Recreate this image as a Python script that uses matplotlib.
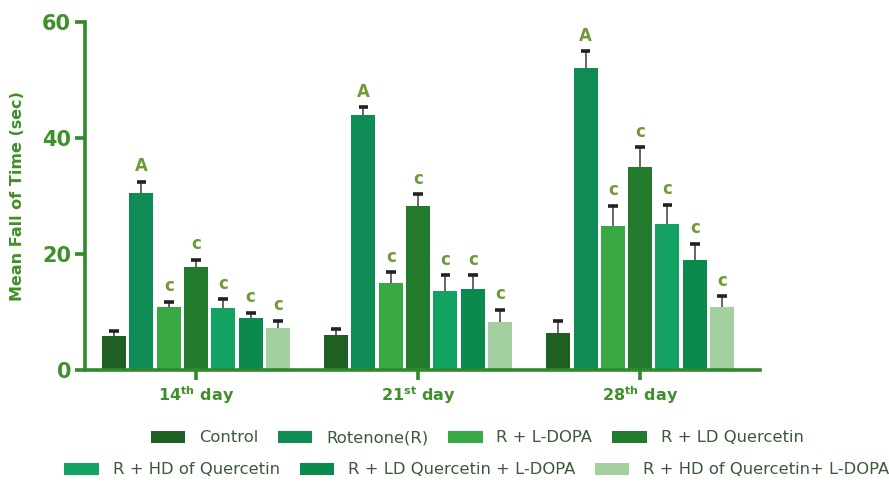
import numpy as np
import matplotlib
matplotlib.use("Agg")
import matplotlib.pyplot as plt
from matplotlib.patches import Patch

days = [r"14$^{\mathbf{th}}$ day", r"21$^{\mathbf{st}}$ day", r"28$^{\mathbf{th}}$ day"]
groups = ["Control", "Rotenone(R)", "R + L-DOPA", "R + LD Quercetin",
          "R + HD of Quercetin", "R + LD Quercetin + L-DOPA",
          "R + HD of Quercetin+ L-DOPA"]

control      = [5.8, 6.0, 6.3]
rotenone     = [30.5, 43.9, 52.1]
r_ldopa      = [10.8, 15.0, 24.9]
r_ld_querc   = [17.8, 28.3, 35.0]
r_hd_querc   = [10.7, 13.6, 25.2]
r_ldq_ldopa  = [9.0, 13.9, 19.0]
r_hdq_ldopa  = [7.2, 8.2, 10.8]

control_err     = [1.0, 1.0, 2.1]
rotenone_err    = [2.0, 1.4, 2.9]
r_ldopa_err     = [1.0, 1.9, 3.4]
r_ld_querc_err  = [1.2, 2.0, 3.4]
r_hd_querc_err  = [1.5, 2.7, 3.3]
r_ldq_ldopa_err = [0.9, 2.4, 2.8]
r_hdq_ldopa_err = [1.3, 2.2, 1.9]

letters = [None, "A", "c", "c", "c", "c", "c"]

values = [control, rotenone, r_ldopa, r_ld_querc, r_hd_querc, r_ldq_ldopa, r_hdq_ldopa]
errors = [control_err, rotenone_err, r_ldopa_err, r_ld_querc_err,
          r_hd_querc_err, r_ldq_ldopa_err, r_hdq_ldopa_err]
colors = ["#1f5f22", "#0f8c55", "#39a944", "#227a2c", "#13a262", "#0b8a4e", "#a3cfa1"]

axis_green = "#2f8a2c"
text_green = "#3f8f2a"

plt.rcParams["mathtext.default"] = "bf"

fig = plt.figure(figsize=(8.89, 4.84), dpi=100)
ax = fig.add_axes([0.0956, 0.2355, 0.7594, 0.719])

x = np.arange(len(days))
pitch = 0.123
width = 0.108
for i, (vals, errs, col) in enumerate(zip(values, errors, colors)):
    pos = x + (i - 3) * pitch
    ax.bar(pos, vals, width=width, color=col, zorder=2)
    ax.errorbar(pos, vals, yerr=[np.zeros(len(errs)), errs], fmt="none",
                ecolor="#666666", elinewidth=1.4, capsize=0, zorder=3)
    for p, v, e in zip(pos, vals, errs):
        # dark error-bar cap
        ax.plot([p - 0.022, p + 0.022], [v + e, v + e], color="#222222", lw=2.6,
                solid_capstyle="butt", zorder=4)
        if letters[i]:
            ax.text(p, v + e + 1.1, letters[i], ha="center", va="bottom",
                    fontsize=12, color="#6f9a3a", fontweight="bold", zorder=5)

ax.set_xlim(-0.5, 2.54)
ax.set_ylim(0, 60)
ax.set_yticks([0, 20, 40, 60])
ax.set_xticks(x)
ax.set_xticklabels(days)
for s in ["top", "right"]:
    ax.spines[s].set_visible(False)
for s in ["left", "bottom"]:
    ax.spines[s].set_color(axis_green)
    ax.spines[s].set_linewidth(2.6)
ax.tick_params(axis="both", colors=axis_green, width=2.6, length=7)
ax.tick_params(axis="y", pad=3)
for lab in ax.get_yticklabels():
    lab.set_fontsize(15)
    lab.set_fontweight("bold")
    lab.set_color(text_green)
for lab in ax.get_xticklabels():
    lab.set_fontsize(11.5)
    lab.set_fontweight("bold")
    lab.set_color(text_green)
ax.set_ylabel("Mean Fall of Time (sec)", fontsize=11.5, fontweight="bold",
              color=text_green)
ax.yaxis.set_label_coords(-60 / 675, 0.5)

handles = [Patch(facecolor=c, edgecolor="none") for c in colors]
leg_kw = dict(frameon=False, fontsize=11.8, handlelength=2.1, handleheight=0.7,
              handletextpad=0.85, columnspacing=1.2, labelcolor="#3c5a3a",
              borderpad=0, borderaxespad=0)
leg1 = fig.legend(handles[:4], groups[:4], ncol=4, loc="center",
                  bbox_to_anchor=(477 / 889, 1 - 438 / 484), **leg_kw)
leg2 = fig.legend(handles[4:], groups[4:], ncol=3, loc="center",
                  bbox_to_anchor=(477 / 889, 1 - 470 / 484), **leg_kw)

fig.savefig("out.png", dpi=100)
